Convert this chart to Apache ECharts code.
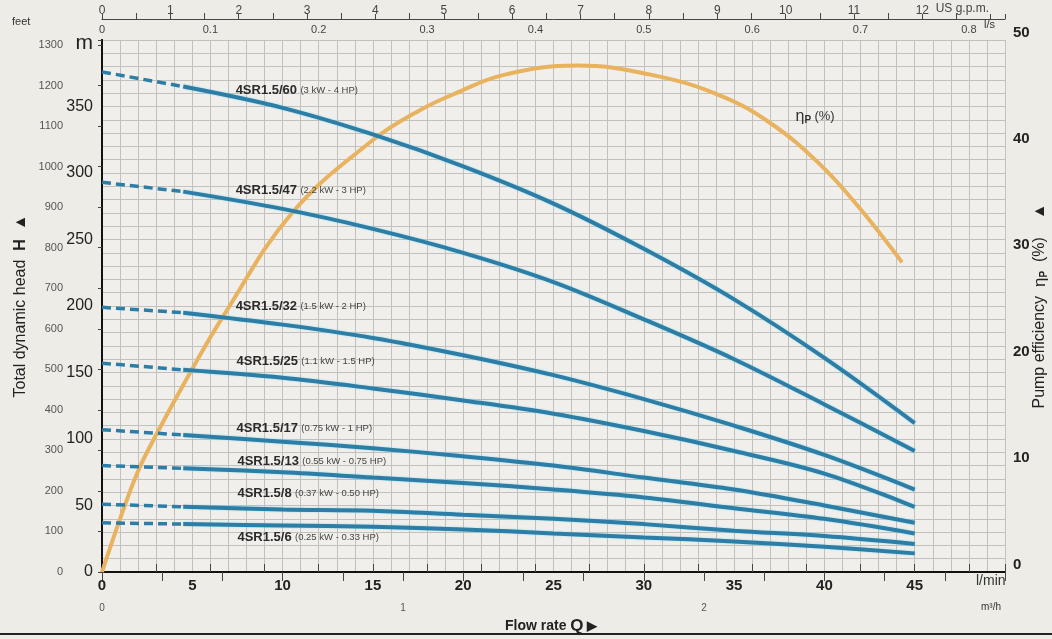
<!DOCTYPE html>
<html>
<head>
<meta charset="utf-8">
<script src="https://cdn.jsdelivr.net/npm/echarts@6/dist/echarts.min.js"></script>
<style>
html,body{margin:0;padding:0;background:#eeece7;}
#c{width:1052px;height:639px;}
</style>
</head>
<body>
<div id="c"></div>
<script>
// ---------- data ----------
const flow = [0, 4.5, 10, 15, 20, 25, 30, 35, 40, 45];   // l/min
const models = ['4SR1.5/60', '4SR1.5/47', '4SR1.5/32', '4SR1.5/25', '4SR1.5/17', '4SR1.5/13', '4SR1.5/8', '4SR1.5/6'];
const powers = ['(3 kW - 4 HP)', '(2.2 kW - 3 HP)', '(1.5 kW - 2 HP)', '(1.1 kW - 1.5 HP)', '(0.75 kW - 1 HP)', '(0.55 kW - 0.75 HP)', '(0.37 kW - 0.50 HP)', '(0.25 kW - 0.33 HP)'];
const h60 = [376, 365, 349, 329, 305, 277, 243, 205, 161, 112];
const h47 = [293, 286, 273, 258, 240, 218, 190, 160, 126, 91];
const h32 = [199, 195, 186, 176, 163, 148, 130, 110, 88, 62];
const h25 = [157, 152, 146, 138, 129, 119, 106, 91, 74, 49];
const h17 = [107, 103, 98, 93, 87, 80, 71, 62, 50, 37];
const h13 = [80, 78, 75, 71, 67, 62, 56, 48, 40, 29];
const h8  = [51, 49, 47, 46, 43, 40, 36, 31, 27, 21];
const h6  = [37, 36, 35, 34, 32, 29, 26, 23, 19, 14];
const heads = [h60, h47, h32, h25, h17, h13, h8, h6];
const labelAt = [[7.4, 362], [7.4, 287], [7.4, 200], [7.45, 158], [7.45, 108], [7.5, 83], [7.5, 59], [7.5, 26]];
const effFlow = [0, 1, 2, 3, 4.9, 6.7, 10.5, 15, 17.6, 19.6, 22.2, 26.3, 30.5, 34.2, 37, 39.7, 41.9, 44.3];
const effVal  = [0, 5, 9.5, 12.9, 18.8, 24, 33.7, 40.6, 43.4, 45, 46.7, 47.6, 46.7, 44.8, 42.2, 38.4, 34.3, 29.1];
const effLabelAt = [38.4, 42.8];
const dashEnd = 1; // index in flow where dashed part ends
const LMIN_MAX = 50, M_MAX = 400;
const FT_PER_M = 3.28084, LMIN_PER_GPM = 3.78541;

// ---------- chart ----------
const chart = echarts.init(document.getElementById('c'), null, {renderer: 'canvas'});
const FONT = 'Liberation Sans';
const BLUE = '#2c7ea6';
const ORANGE = '#e9b25f';
const GRIDC = '#c2c1bd';

const series = [];
heads.forEach((h, i) => {
  series.push({
    type: 'line', xAxisIndex: 0, yAxisIndex: 0, symbol: 'none', silent: true,
    data: flow.slice(0, dashEnd + 1).map((q, j) => [q, h[j]]),
    lineStyle: {color: BLUE, width: 3.5, type: [9, 5]}, z: 3
  });
  series.push({
    type: 'line', xAxisIndex: 0, yAxisIndex: 0, symbol: 'none', silent: true, smooth: 0.35,
    data: flow.slice(dashEnd).map((q, j) => [q, h[j + dashEnd]]),
    lineStyle: {color: BLUE, width: 4, shadowColor: 'rgba(110,210,235,0.7)', shadowBlur: 2}, z: 3,
    markPoint: {
      symbol: 'circle', symbolSize: 0, silent: true,
      data: [{coord: labelAt[i]}],
      label: {
        show: true, position: 'right', distance: 0,
        formatter: '{m|' + models[i] + '} {p|' + powers[i] + '}',
        rich: {
          m: {fontFamily: FONT, fontSize: 13, fontWeight: 'bold', color: '#2a2a2a'},
          p: {fontFamily: FONT, fontSize: 9.5, color: '#444'}
        }
      }
    }
  });
});
series.push({
  type: 'line', xAxisIndex: 0, yAxisIndex: 2, symbol: 'none', silent: true, smooth: 0.4,
  data: effFlow.map((q, j) => [q, effVal[j]]),
  lineStyle: {color: ORANGE, width: 4}, z: 2,
  markPoint: {
    symbol: 'circle', symbolSize: 0, silent: true,
    data: [{coord: effLabelAt}],
    label: {
      show: true, position: 'right', distance: 0,
      formatter: '{e|η}{s|P} {n|(%)}',
      rich: {
        e: {fontFamily: FONT, fontSize: 16, color: '#333'},
        s: {fontFamily: FONT, fontSize: 10, fontWeight: 'bold', color: '#333', padding: [8, 0, 0, 0]},
        n: {fontFamily: FONT, fontSize: 13, color: '#333'}
      }
    }
  }
});

function unitTitle(text, left, top, size, extra) {
  return Object.assign({
    text: text, left: left, top: top, padding: 0,
    textStyle: {fontFamily: FONT, fontSize: size, fontWeight: 'normal', color: '#333'}
  }, extra || {});
}

const option = {
  backgroundColor: '#eeece7',
  animation: false,
  grid: {left: 102, right: 47, top: 40, bottom: 67, show: true, backgroundColor: '#f1efeb', borderWidth: 0,
         containLabel: false, outerBoundsMode: 'none'},
  title: [
    {
      text: 'Flow rate {q|Q} {a|▶}', left: 505, top: 618, padding: 0,
      textStyle: {
        fontFamily: FONT, fontSize: 14, fontWeight: 'bold', color: '#222',
        rich: {q: {fontFamily: FONT, fontSize: 17, fontWeight: 'bold', color: '#222'},
               a: {fontFamily: FONT, fontSize: 13, color: '#222'}}
      }
    },
    unitTitle('l/min', 976, 574, 14),
    unitTitle('m³/h', 981, 602, 10),
    unitTitle('l/s', 984, 19, 11),
    unitTitle('feet', 12, 16, 11)
  ],
  xAxis: [
    { // l/min main
      type: 'value', position: 'bottom', min: 0, max: LMIN_MAX, interval: 5,
      axisLine: {show: true, lineStyle: {color: '#111', width: 2}},
      axisTick: {show: false},
      axisLabel: {fontFamily: FONT, fontSize: 15, fontWeight: 'bold', color: '#222', margin: 6,
        formatter: v => v === LMIN_MAX ? '' : String(v)},
      splitLine: {show: true, lineStyle: {color: GRIDC, width: 1}},
      minorTick: {show: false, splitNumber: 5},
      minorSplitLine: {show: true, lineStyle: {color: GRIDC, width: 1}}
    },
    { // m3/h
      type: 'value', position: 'bottom', offset: 25, min: 0, max: LMIN_MAX * 60 / 1000, interval: 1,
      axisLine: {show: true, lineStyle: {color: '#444', width: 1}},
      axisTick: {show: true, length: 9, lineStyle: {color: '#444'}},
      minorTick: {show: true, splitNumber: 5, length: 9, lineStyle: {color: '#444'}},
      axisLabel: {fontFamily: FONT, fontSize: 10, color: '#555', margin: 6,
        formatter: v => (v === 3 ? '' : String(v))},
      splitLine: {show: false}
    },
    { // l/s top
      type: 'value', position: 'top', offset: 0, min: 0, max: LMIN_MAX / 60, interval: 0.1,
      axisLine: {show: true, lineStyle: {color: '#111', width: 2}},
      axisTick: {show: true, length: 8, lineStyle: {color: '#444'}},
      minorTick: {show: true, splitNumber: 2, length: 8, lineStyle: {color: '#444'}},
      axisLabel: {fontFamily: FONT, fontSize: 11, color: '#444', margin: 5,
        formatter: v => { const r = Math.round(v * 10) / 10; return Math.abs(r - v) > 1e-6 ? '' : (r === 0 ? '0' : r.toFixed(1)); }},
      splitLine: {show: false}
    },
    { // US gpm top
      type: 'value', position: 'top', offset: 21, min: 0, max: LMIN_MAX / LMIN_PER_GPM, interval: 1,
      axisLine: {show: true, lineStyle: {color: '#444', width: 1}},
      axisTick: {show: true, length: 5, lineStyle: {color: '#444'}},
      minorTick: {show: true, splitNumber: 2, length: 6, lineStyle: {color: '#444'}},
      axisLabel: {fontFamily: FONT, fontSize: 12, color: '#444', margin: 2,
        formatter: v => (Number.isInteger(v) && v <= 12 ? String(v) : '')},
      splitLine: {show: false},
      name: 'US g.p.m.', nameLocation: 'end', nameGap: -16, nameMoveOverlap: false,
      nameTextStyle: {fontFamily: FONT, fontSize: 12, color: '#444', align: 'right', verticalAlign: 'bottom', padding: [0, 0, 4, 0]}
    }
  ],
  yAxis: [
    { // metres
      type: 'value', position: 'left', min: 0, max: M_MAX, interval: 50,
      axisLine: {show: true, lineStyle: {color: '#111', width: 2}},
      axisTick: {show: false},
      axisLabel: {fontFamily: FONT, fontSize: 16, color: '#222', margin: 9,
        formatter: v => (v === M_MAX ? '{u|m}' : String(v)),
        rich: {u: {fontFamily: FONT, fontSize: 21, color: '#222', padding: [6, 0, 0, 0]}}},
      splitLine: {show: true, lineStyle: {color: GRIDC, width: 1}},
      minorTick: {show: false, splitNumber: 5},
      minorSplitLine: {show: true, lineStyle: {color: GRIDC, width: 1}}
    },
    { // feet
      type: 'value', position: 'left', offset: 37, min: 0, max: M_MAX * FT_PER_M, interval: 100,
      axisLine: {show: true, lineStyle: {color: '#444', width: 1}},
      axisTick: {show: true, length: 4, lineStyle: {color: '#444'}},
      axisLabel: {fontFamily: FONT, fontSize: 11, color: '#555', margin: 2,
        formatter: v => (v % 100 === 0 ? String(v) : '')},
      splitLine: {show: false},
      name: 'Total dynamic head  {h|H}  ▲', nameLocation: 'middle', nameGap: 36, nameMoveOverlap: false,
      nameTextStyle: {fontFamily: FONT, fontSize: 16, color: '#222',
        rich: {h: {fontFamily: FONT, fontSize: 16, fontWeight: 'bold', color: '#222'}}}
    },
    { // efficiency
      type: 'value', position: 'right', min: 0, max: 50, interval: 10,
      axisLine: {show: true, lineStyle: {color: '#111', width: 2}},
      axisTick: {show: false},
      axisLabel: {fontFamily: FONT, fontSize: 15, fontWeight: 'bold', color: '#222', margin: 8,
        verticalAlign: 'bottom'},
      splitLine: {show: false},
      name: 'Pump efficiency  {e|η}{s|P}  (%)    ▲', nameLocation: 'middle', nameGap: 26, nameMoveOverlap: false,
      nameTextStyle: {fontFamily: FONT, fontSize: 16, color: '#222',
        rich: {e: {fontFamily: FONT, fontSize: 17, color: '#222'},
               s: {fontFamily: FONT, fontSize: 10, fontWeight: 'bold', color: '#222', padding: [8, 0, 0, 0]}}}
    }
  ],
  graphic: [
    {type: 'rect', left: 0, bottom: 4, shape: {width: 1052, height: 2}, style: {fill: '#222'}, silent: true}
  ],
  series: series
};
chart.setOption(option);
</script>
</body>
</html>
